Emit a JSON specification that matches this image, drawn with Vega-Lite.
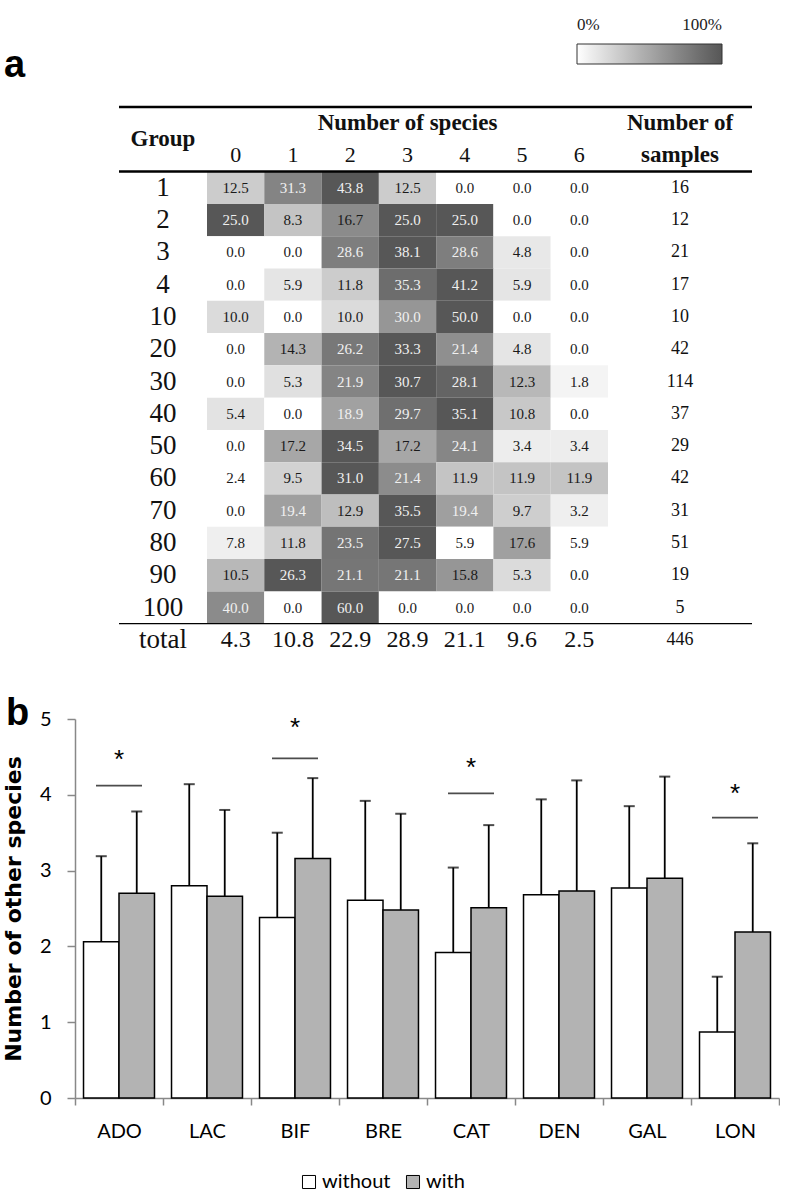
{
"$schema": "https://vega.github.io/schema/vega-lite/v6.json",
"background": "white",
"padding": {"left": 1, "top": 44, "right": 0, "bottom": 0},
"resolve": {"scale": {"color": "independent", "fill": "independent"}},
"datasets": {
"cells": [
{"group":"1","species":0,"pct":12.5},{"group":"1","species":1,"pct":31.3},{"group":"1","species":2,"pct":43.8},{"group":"1","species":3,"pct":12.5},{"group":"1","species":4,"pct":0.0},{"group":"1","species":5,"pct":0.0},{"group":"1","species":6,"pct":0.0},
{"group":"2","species":0,"pct":25.0},{"group":"2","species":1,"pct":8.3},{"group":"2","species":2,"pct":16.7},{"group":"2","species":3,"pct":25.0},{"group":"2","species":4,"pct":25.0},{"group":"2","species":5,"pct":0.0},{"group":"2","species":6,"pct":0.0},
{"group":"3","species":0,"pct":0.0},{"group":"3","species":1,"pct":0.0},{"group":"3","species":2,"pct":28.6},{"group":"3","species":3,"pct":38.1},{"group":"3","species":4,"pct":28.6},{"group":"3","species":5,"pct":4.8},{"group":"3","species":6,"pct":0.0},
{"group":"4","species":0,"pct":0.0},{"group":"4","species":1,"pct":5.9},{"group":"4","species":2,"pct":11.8},{"group":"4","species":3,"pct":35.3},{"group":"4","species":4,"pct":41.2},{"group":"4","species":5,"pct":5.9},{"group":"4","species":6,"pct":0.0},
{"group":"10","species":0,"pct":10.0},{"group":"10","species":1,"pct":0.0},{"group":"10","species":2,"pct":10.0},{"group":"10","species":3,"pct":30.0},{"group":"10","species":4,"pct":50.0},{"group":"10","species":5,"pct":0.0},{"group":"10","species":6,"pct":0.0},
{"group":"20","species":0,"pct":0.0},{"group":"20","species":1,"pct":14.3},{"group":"20","species":2,"pct":26.2},{"group":"20","species":3,"pct":33.3},{"group":"20","species":4,"pct":21.4},{"group":"20","species":5,"pct":4.8},{"group":"20","species":6,"pct":0.0},
{"group":"30","species":0,"pct":0.0},{"group":"30","species":1,"pct":5.3},{"group":"30","species":2,"pct":21.9},{"group":"30","species":3,"pct":30.7},{"group":"30","species":4,"pct":28.1},{"group":"30","species":5,"pct":12.3},{"group":"30","species":6,"pct":1.8},
{"group":"40","species":0,"pct":5.4},{"group":"40","species":1,"pct":0.0},{"group":"40","species":2,"pct":18.9},{"group":"40","species":3,"pct":29.7},{"group":"40","species":4,"pct":35.1},{"group":"40","species":5,"pct":10.8},{"group":"40","species":6,"pct":0.0},
{"group":"50","species":0,"pct":0.0},{"group":"50","species":1,"pct":17.2},{"group":"50","species":2,"pct":34.5},{"group":"50","species":3,"pct":17.2},{"group":"50","species":4,"pct":24.1},{"group":"50","species":5,"pct":3.4},{"group":"50","species":6,"pct":3.4},
{"group":"60","species":0,"pct":2.4},{"group":"60","species":1,"pct":9.5},{"group":"60","species":2,"pct":31.0},{"group":"60","species":3,"pct":21.4},{"group":"60","species":4,"pct":11.9},{"group":"60","species":5,"pct":11.9},{"group":"60","species":6,"pct":11.9},
{"group":"70","species":0,"pct":0.0},{"group":"70","species":1,"pct":19.4},{"group":"70","species":2,"pct":12.9},{"group":"70","species":3,"pct":35.5},{"group":"70","species":4,"pct":19.4},{"group":"70","species":5,"pct":9.7},{"group":"70","species":6,"pct":3.2},
{"group":"80","species":0,"pct":7.8},{"group":"80","species":1,"pct":11.8},{"group":"80","species":2,"pct":23.5},{"group":"80","species":3,"pct":27.5},{"group":"80","species":4,"pct":5.9},{"group":"80","species":5,"pct":17.6},{"group":"80","species":6,"pct":5.9},
{"group":"90","species":0,"pct":10.5},{"group":"90","species":1,"pct":26.3},{"group":"90","species":2,"pct":21.1},{"group":"90","species":3,"pct":21.1},{"group":"90","species":4,"pct":15.8},{"group":"90","species":5,"pct":5.3},{"group":"90","species":6,"pct":0.0},
{"group":"100","species":0,"pct":40.0},{"group":"100","species":1,"pct":0.0},{"group":"100","species":2,"pct":60.0},{"group":"100","species":3,"pct":0.0},{"group":"100","species":4,"pct":0.0},{"group":"100","species":5,"pct":0.0},{"group":"100","species":6,"pct":0.0},
{"group":"total","species":0,"pct":4.3},{"group":"total","species":1,"pct":10.8},{"group":"total","species":2,"pct":22.9},{"group":"total","species":3,"pct":28.9},{"group":"total","species":4,"pct":21.1},{"group":"total","species":5,"pct":9.6},{"group":"total","species":6,"pct":2.5}
],
"samples": [
{"group":"1","n":16},{"group":"2","n":12},{"group":"3","n":21},{"group":"4","n":17},{"group":"10","n":10},{"group":"20","n":42},{"group":"30","n":114},{"group":"40","n":37},{"group":"50","n":29},{"group":"60","n":42},{"group":"70","n":31},{"group":"80","n":51},{"group":"90","n":19},{"group":"100","n":5},{"group":"total","n":446}
],
"bars": [
{"cat":"ADO","grp":"without","mean":2.06,"hi":3.19},{"cat":"ADO","grp":"with","mean":2.70,"hi":3.78},
{"cat":"LAC","grp":"without","mean":2.80,"hi":4.14},{"cat":"LAC","grp":"with","mean":2.66,"hi":3.80},
{"cat":"BIF","grp":"without","mean":2.38,"hi":3.50},{"cat":"BIF","grp":"with","mean":3.16,"hi":4.22},
{"cat":"BRE","grp":"without","mean":2.61,"hi":3.92},{"cat":"BRE","grp":"with","mean":2.48,"hi":3.75},
{"cat":"CAT","grp":"without","mean":1.92,"hi":3.04},{"cat":"CAT","grp":"with","mean":2.51,"hi":3.60},
{"cat":"DEN","grp":"without","mean":2.68,"hi":3.94},{"cat":"DEN","grp":"with","mean":2.73,"hi":4.19},
{"cat":"GAL","grp":"without","mean":2.77,"hi":3.85},{"cat":"GAL","grp":"with","mean":2.90,"hi":4.24},
{"cat":"LON","grp":"without","mean":0.87,"hi":1.60},{"cat":"LON","grp":"with","mean":2.19,"hi":3.36}
],
"sig": [
{"cat":"ADO","line":4.12,"star":4.52},{"cat":"BIF","line":4.48,"star":4.95},{"cat":"CAT","line":4.02,"star":4.42},{"cat":"LON","line":3.70,"star":4.07}
]
},
"vconcat": [
{
"hconcat": [
{
"width": 44, "height": 549,
"data": {"name": "samples"},
"transform": [{"filter": "false"}],
"mark": "text",
"encoding": {"text": {"field": "group"}}
},
{
"width": 88, "height": 549,
"data": {"name": "samples"},
"title": {"text": "a", "anchor": "start", "frame": "group", "dx": -115, "offset": 30, "dy": 39, "baseline": "alphabetic", "font": "Liberation Sans", "fontSize": 38, "fontWeight": "bold", "color": "#000"},
"layer": [
{"mark": {"type": "text", "font": "Liberation Serif", "fontSize": 27, "color": "#111"},
 "encoding": {"y": {"field": "group", "type": "nominal", "scale": {"domain": ["h1","h2","1","2","3","4","10","20","30","40","50","60","70","80","90","100","total"], "paddingInner": 0, "paddingOuter": 0}, "axis": null}, "text": {"field": "group"}}},
{"transform": [{"filter": "datum.group === 'total'"}],
 "mark": {"type": "text", "font": "Liberation Serif", "fontSize": 23, "fontWeight": "bold", "color": "#111"},
 "encoding": {"y": {"datum": "h2", "type": "nominal", "bandPosition": 0, "axis": null}, "text": {"value": "Group"}}},
{"transform": [{"filter": "datum.group === 'total'"}], "mark": {"type": "rule", "color": "#000", "strokeWidth": 2.5}, "encoding": {"y": {"datum": "h1", "type": "nominal", "bandPosition": 0, "axis": null}}},
{"transform": [{"filter": "datum.group === 'total'"}], "mark": {"type": "rule", "color": "#000", "strokeWidth": 2.5}, "encoding": {"y": {"datum": "1", "type": "nominal", "bandPosition": 0, "axis": null}}},
{"transform": [{"filter": "datum.group === 'total'"}], "mark": {"type": "rule", "color": "#000", "strokeWidth": 1.2}, "encoding": {"y": {"datum": "total", "type": "nominal", "bandPosition": 0, "axis": null}}}
]
},
{
"width": 401, "height": 549,
"data": {"name": "cells"},
"resolve": {"scale": {"color": "independent"}},
"layer": [
{"transform": [{"filter": "datum.group === '1'"}], "mark": "rect", "encoding": {"x": {"field": "species", "type": "nominal", "scale": {"domain": [0,1,2,3,4,5,6], "paddingInner": 0, "paddingOuter": 0}, "axis": null}, "y": {"field": "group", "type": "nominal", "scale": {"domain": ["h1","h2","1","2","3","4","10","20","30","40","50","60","70","80","90","100","total"], "paddingInner": 0, "paddingOuter": 0}, "axis": null},
 "color": {"field": "pct", "type": "quantitative", "scale": {"range": ["#ffffff", "#575757"], "zero": false, "nice": false},
  "legend": {"orient": "none", "legendX": 370, "legendY": -63, "direction": "horizontal", "title": null, "gradientLength": 145, "gradientThickness": 20, "values": [0, 43.8], "labelExpr": "datum.value < 1 ? '0%' : '100%'", "labelOffset": -47, "labelFont": "Liberation Serif", "labelFontSize": 17, "labelColor": "#222", "gradientStrokeColor": "#333", "gradientStrokeWidth": 1, "padding": 0}}}},
{"transform": [{"filter": "datum.group === '2'"}], "mark": "rect", "encoding": {"x": {"field": "species", "type": "nominal", "axis": null}, "y": {"field": "group", "type": "nominal", "axis": null}, "color": {"field": "pct", "type": "quantitative", "scale": {"range": ["#ffffff", "#575757"], "zero": false, "nice": false}, "legend": null}}},
{"transform": [{"filter": "datum.group === '3'"}], "mark": "rect", "encoding": {"x": {"field": "species", "type": "nominal", "axis": null}, "y": {"field": "group", "type": "nominal", "axis": null}, "color": {"field": "pct", "type": "quantitative", "scale": {"range": ["#ffffff", "#575757"], "zero": false, "nice": false}, "legend": null}}},
{"transform": [{"filter": "datum.group === '4'"}], "mark": "rect", "encoding": {"x": {"field": "species", "type": "nominal", "axis": null}, "y": {"field": "group", "type": "nominal", "axis": null}, "color": {"field": "pct", "type": "quantitative", "scale": {"range": ["#ffffff", "#575757"], "zero": false, "nice": false}, "legend": null}}},
{"transform": [{"filter": "datum.group === '10'"}], "mark": "rect", "encoding": {"x": {"field": "species", "type": "nominal", "axis": null}, "y": {"field": "group", "type": "nominal", "axis": null}, "color": {"field": "pct", "type": "quantitative", "scale": {"range": ["#ffffff", "#575757"], "zero": false, "nice": false}, "legend": null}}},
{"transform": [{"filter": "datum.group === '20'"}], "mark": "rect", "encoding": {"x": {"field": "species", "type": "nominal", "axis": null}, "y": {"field": "group", "type": "nominal", "axis": null}, "color": {"field": "pct", "type": "quantitative", "scale": {"range": ["#ffffff", "#575757"], "zero": false, "nice": false}, "legend": null}}},
{"transform": [{"filter": "datum.group === '30'"}], "mark": "rect", "encoding": {"x": {"field": "species", "type": "nominal", "axis": null}, "y": {"field": "group", "type": "nominal", "axis": null}, "color": {"field": "pct", "type": "quantitative", "scale": {"range": ["#ffffff", "#575757"], "zero": false, "nice": false}, "legend": null}}},
{"transform": [{"filter": "datum.group === '40'"}], "mark": "rect", "encoding": {"x": {"field": "species", "type": "nominal", "axis": null}, "y": {"field": "group", "type": "nominal", "axis": null}, "color": {"field": "pct", "type": "quantitative", "scale": {"range": ["#ffffff", "#575757"], "zero": false, "nice": false}, "legend": null}}},
{"transform": [{"filter": "datum.group === '50'"}], "mark": "rect", "encoding": {"x": {"field": "species", "type": "nominal", "axis": null}, "y": {"field": "group", "type": "nominal", "axis": null}, "color": {"field": "pct", "type": "quantitative", "scale": {"range": ["#ffffff", "#575757"], "zero": false, "nice": false}, "legend": null}}},
{"transform": [{"filter": "datum.group === '60'"}], "mark": "rect", "encoding": {"x": {"field": "species", "type": "nominal", "axis": null}, "y": {"field": "group", "type": "nominal", "axis": null}, "color": {"field": "pct", "type": "quantitative", "scale": {"range": ["#ffffff", "#575757"], "zero": false, "nice": false}, "legend": null}}},
{"transform": [{"filter": "datum.group === '70'"}], "mark": "rect", "encoding": {"x": {"field": "species", "type": "nominal", "axis": null}, "y": {"field": "group", "type": "nominal", "axis": null}, "color": {"field": "pct", "type": "quantitative", "scale": {"range": ["#ffffff", "#575757"], "zero": false, "nice": false}, "legend": null}}},
{"transform": [{"filter": "datum.group === '80'"}], "mark": "rect", "encoding": {"x": {"field": "species", "type": "nominal", "axis": null}, "y": {"field": "group", "type": "nominal", "axis": null}, "color": {"field": "pct", "type": "quantitative", "scale": {"range": ["#ffffff", "#575757"], "zero": false, "nice": false}, "legend": null}}},
{"transform": [{"filter": "datum.group === '90'"}], "mark": "rect", "encoding": {"x": {"field": "species", "type": "nominal", "axis": null}, "y": {"field": "group", "type": "nominal", "axis": null}, "color": {"field": "pct", "type": "quantitative", "scale": {"range": ["#ffffff", "#575757"], "zero": false, "nice": false}, "legend": null}}},
{"transform": [{"filter": "datum.group === '100'"}], "mark": "rect", "encoding": {"x": {"field": "species", "type": "nominal", "axis": null}, "y": {"field": "group", "type": "nominal", "axis": null}, "color": {"field": "pct", "type": "quantitative", "scale": {"range": ["#ffffff", "#575757"], "zero": false, "nice": false}, "legend": null}}},
{"transform": [{"filter": "datum.group !== 'total'"}], "mark": {"type": "text", "font": "Liberation Serif", "fontSize": 15},
 "encoding": {"x": {"field": "species", "type": "nominal", "axis": null}, "y": {"field": "group", "type": "nominal", "axis": null}, "text": {"field": "pct", "type": "quantitative", "format": ".1f"},
  "color": {"field": "pct", "type": "quantitative", "scale": {"type": "threshold", "domain": [18], "range": ["#1a1a1a", "#f0f0f0"]}, "legend": null}}},
{"transform": [{"filter": "datum.group === 'total'"}], "mark": {"type": "text", "font": "Liberation Serif", "fontSize": 24, "color": "#111"},
 "encoding": {"x": {"field": "species", "type": "nominal", "axis": null}, "y": {"field": "group", "type": "nominal", "axis": null}, "text": {"field": "pct", "type": "quantitative", "format": ".1f"}}},
{"transform": [{"filter": "datum.group === 'total'"}], "mark": {"type": "text", "font": "Liberation Serif", "fontSize": 22, "color": "#111"},
 "encoding": {"x": {"field": "species", "type": "nominal", "axis": null}, "y": {"datum": "h2", "type": "nominal", "axis": null}, "text": {"field": "species", "type": "nominal"}}},
{"transform": [{"filter": "datum.group === 'total' && datum.species === 0"}], "mark": {"type": "text", "font": "Liberation Serif", "fontSize": 23, "fontWeight": "bold", "color": "#111"},
 "encoding": {"y": {"datum": "h1", "type": "nominal", "axis": null}, "text": {"value": "Number of species"}}},
{"transform": [{"filter": "datum.group === 'total' && datum.species === 0"}], "mark": {"type": "rule", "color": "#000", "strokeWidth": 2.5}, "encoding": {"y": {"datum": "h1", "type": "nominal", "bandPosition": 0, "axis": null}}},
{"transform": [{"filter": "datum.group === 'total' && datum.species === 0"}], "mark": {"type": "rule", "color": "#000", "strokeWidth": 2.5}, "encoding": {"y": {"datum": "1", "type": "nominal", "bandPosition": 0, "axis": null}}},
{"transform": [{"filter": "datum.group === 'total' && datum.species === 0"}], "mark": {"type": "rule", "color": "#000", "strokeWidth": 1.2}, "encoding": {"y": {"datum": "total", "type": "nominal", "bandPosition": 0, "axis": null}}}
]
},
{
"width": 144, "height": 549,
"data": {"name": "samples"},
"layer": [
{"mark": {"type": "text", "font": "Liberation Serif", "fontSize": 18, "color": "#111"},
 "encoding": {"y": {"field": "group", "type": "nominal", "scale": {"domain": ["h1","h2","1","2","3","4","10","20","30","40","50","60","70","80","90","100","total"], "paddingInner": 0, "paddingOuter": 0}, "axis": null}, "text": {"field": "n", "type": "quantitative"}}},
{"transform": [{"filter": "datum.group === 'total'"}], "mark": {"type": "text", "font": "Liberation Serif", "fontSize": 23, "fontWeight": "bold", "color": "#111"},
 "encoding": {"y": {"datum": "h1", "type": "nominal", "axis": null}, "text": {"value": "Number of"}}},
{"transform": [{"filter": "datum.group === 'total'"}], "mark": {"type": "text", "font": "Liberation Serif", "fontSize": 23, "fontWeight": "bold", "color": "#111"},
 "encoding": {"y": {"datum": "h2", "type": "nominal", "axis": null}, "text": {"value": "samples"}}},
{"transform": [{"filter": "datum.group === 'total'"}], "mark": {"type": "rule", "color": "#000", "strokeWidth": 2.5}, "encoding": {"y": {"datum": "h1", "type": "nominal", "bandPosition": 0, "axis": null}}},
{"transform": [{"filter": "datum.group === 'total'"}], "mark": {"type": "rule", "color": "#000", "strokeWidth": 2.5}, "encoding": {"y": {"datum": "1", "type": "nominal", "bandPosition": 0, "axis": null}}},
{"transform": [{"filter": "datum.group === 'total'"}], "mark": {"type": "rule", "color": "#000", "strokeWidth": 1.2}, "encoding": {"y": {"datum": "total", "type": "nominal", "bandPosition": 0, "axis": null}}}
]
}
],
"spacing": 0,
"bounds": "flush"
},
{
"width": 704, "height": 379,
"title": {"text": "b", "anchor": "start", "frame": "group", "dx": -69, "offset": 0, "baseline": "alphabetic", "dy": 54, "font": "Liberation Sans", "fontSize": 38, "fontWeight": "bold", "color": "#000"},
"encoding": {"x": {"field": "cat", "type": "nominal", "scale": {"domain": ["ADO","LAC","BIF","BRE","CAT","DEN","GAL","LON"], "paddingInner": 0, "paddingOuter": 0},
 "axis": {"title": null, "labelFont": "Lato", "labelFontSize": 20, "labelColor": "#000", "labelAngle": 0, "labelPadding": 16, "tickBand": "extent", "tickSize": 7, "tickColor": "#888", "tickWidth": 1.5, "domainColor": "#888", "domainWidth": 1.5}}},
"layer": [
{"data": {"name": "bars"}, "mark": {"type": "bar", "stroke": "#000", "strokeWidth": 1.5},
 "encoding": {"xOffset": {"field": "grp", "type": "nominal", "scale": {"domain": ["without","with"], "paddingInner": 0, "paddingOuter": 0.24}},
  "y": {"field": "mean", "type": "quantitative", "scale": {"domain": [0, 5], "nice": false},
   "axis": {"values": [0,1,2,3,4,5], "format": "d", "title": "Number of other species", "titleX": -62, "titleY": 189.5, "titleAlign": "center", "titleBaseline": "middle", "titleAngle": 270, "labelPadding": 16, "labelAlign": "right", "tickSize": 8}},
  "fill": {"field": "grp", "type": "nominal", "scale": {"domain": ["without","with"], "range": ["#ffffff", "#b3b3b3"]},
   "legend": {"orient": "none", "legendX": 224, "legendY": 453, "direction": "horizontal", "title": null, "symbolType": "square", "symbolSize": 170, "symbolStrokeColor": "#000", "symbolStrokeWidth": 1, "labelFont": "Lato", "labelFontSize": 20, "labelColor": "#000", "columnPadding": 12, "labelOffset": 3}}}},
{"data": {"name": "bars"}, "mark": {"type": "rule", "color": "#000", "strokeWidth": 1.8},
 "encoding": {"xOffset": {"field": "grp", "type": "nominal", "scale": {"domain": ["without","with"], "paddingInner": 0, "paddingOuter": 0.24}}, "y": {"field": "mean", "type": "quantitative"}, "y2": {"field": "hi"}}},
{"data": {"name": "bars"}, "mark": {"type": "tick", "color": "#000", "size": 11, "thickness": 2},
 "encoding": {"xOffset": {"field": "grp", "type": "nominal", "scale": {"domain": ["without","with"], "paddingInner": 0, "paddingOuter": 0.24}}, "y": {"field": "hi", "type": "quantitative"}}},
{"data": {"name": "sig"}, "mark": {"type": "tick", "color": "#000", "size": 46, "thickness": 1.8},
 "encoding": {"y": {"field": "line", "type": "quantitative"}}},
{"data": {"name": "sig"}, "mark": {"type": "text", "text": "*", "font": "Liberation Sans", "fontSize": 26, "color": "#000", "dy": 5},
 "encoding": {"y": {"field": "star", "type": "quantitative"}}}
]
}
],
"spacing": 39,
"config": {
"view": {"stroke": null},
"axisY": {"titleFont": "DejaVu Sans", "titleFontSize": 22, "titleFontWeight": "bold", "titleColor": "#000", "labelFont": "Lato", "labelFontSize": 20, "labelColor": "#000", "labelPadding": 16, "tickSize": 8, "tickColor": "#888", "tickWidth": 1.5, "domainColor": "#888", "domainWidth": 1.5, "grid": false}
}
}
